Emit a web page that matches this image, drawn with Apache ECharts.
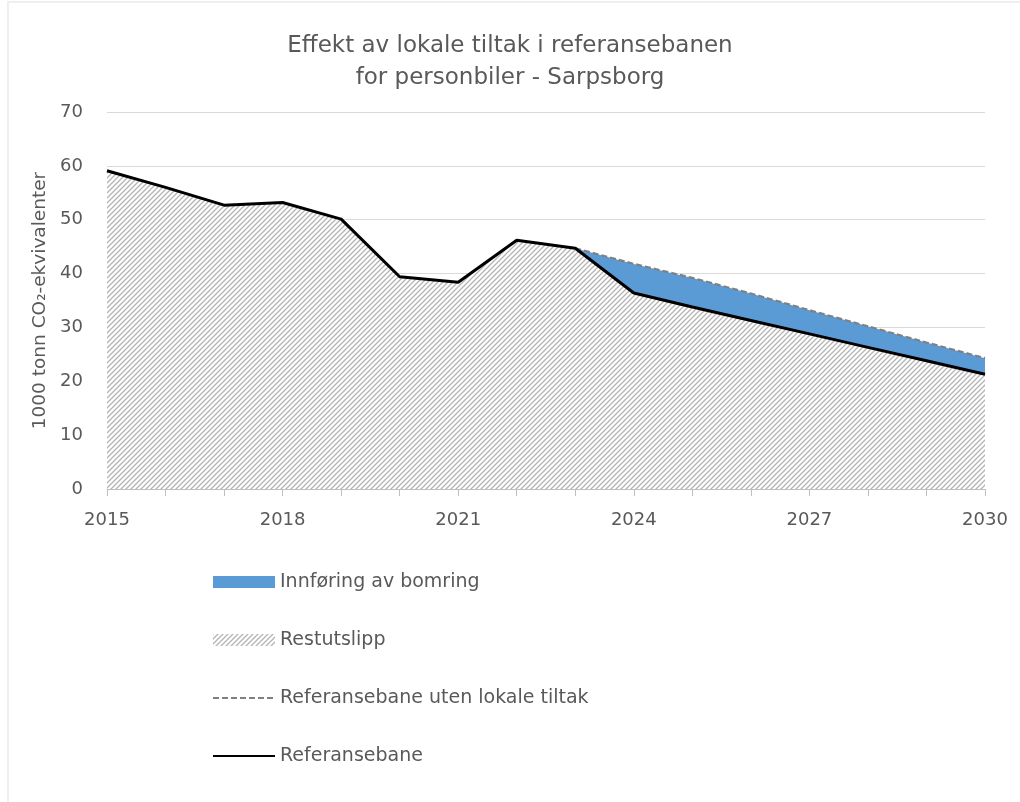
<!DOCTYPE html>
<html>
<head>
<meta charset="utf-8">
<title>Effekt av lokale tiltak - Sarpsborg</title>
<script src="https://cdn.jsdelivr.net/npm/echarts@6/dist/echarts.min.js"></script>
<style>
  html, body { margin: 0; padding: 0; background: #fff; }
  #chart { width: 1020px; height: 802px; }
</style>
</head>
<body>
<div id="chart"></div>
<script>
// år på x-aksen
const years = ['2015', '2016', '2017', '2018', '2019', '2020', '2021', '2022',
  '2023', '2024', '2025', '2026', '2027', '2028', '2029', '2030'];
// referansebane (1000 tonn CO2-ekv.)
const referansebane = [59.1, 56.0, 52.7, 53.2, 50.1, 39.4, 38.4, 46.2,
  44.7, 36.4, 33.8, 31.3, 28.8, 26.3, 23.8, 21.3];
// referansebane uten lokale tiltak (fra 2023)
const utenTiltak = [null, null, null, null, null, null, null, null,
  44.7, 41.8, 39.2, 36.3, 33.2, 30.2, 27.2, 24.3];
const yTicks = [0, 10, 20, 30, 40, 50, 60, 70];

// effekt av bomring = forskjellen mellom banene
const bomring = years.map((y, i) =>
  utenTiltak[i] == null ? 0 : +(utenTiltak[i] - referansebane[i]).toFixed(2));

// skravur-mønster for restutslipp
function makeHatch(bg) {
  const s = 5;
  const c = document.createElement('canvas');
  c.width = s; c.height = s;
  const ctx = c.getContext('2d');
  if (bg) {
    ctx.fillStyle = bg;
    ctx.fillRect(0, 0, s, s);
  }
  ctx.strokeStyle = '#b4b4b4';
  ctx.lineWidth = 1.3;
  ctx.beginPath();
  ctx.moveTo(0, s); ctx.lineTo(s, 0);
  ctx.moveTo(-1, 1); ctx.lineTo(1, -1);
  ctx.moveTo(s - 1, s + 1); ctx.lineTo(s + 1, s - 1);
  ctx.stroke();
  return c;
}
const hatch = { image: makeHatch('#ffffff'), repeat: 'repeat' };
const hatchLegend = { image: makeHatch(null), repeat: 'repeat' };

const txt = '#595959';
const font = 'DejaVu Sans';
const noSymbol = { color: 'rgba(0,0,0,0)', borderWidth: 0, opacity: 0 };

const myChart = echarts.init(document.getElementById('chart'));
const option = {
  backgroundColor: '#fff',
  animation: false,
  graphic: [{
    type: 'rect', shape: { x: 8, y: 2, width: 1100, height: 900 },
    style: { fill: 'none', stroke: '#efefef', lineWidth: 2 }, silent: true
  }],
  title: {
    text: 'Effekt av lokale tiltak i referansebanen\nfor personbiler - Sarpsborg',
    left: 'center',
    top: 25,
    textStyle: { color: txt, fontFamily: font, fontSize: 23, fontWeight: 'normal', lineHeight: 32 }
  },
  legend: {
    orient: 'vertical',
    left: 207,
    top: 567,
    itemWidth: 62,
    itemHeight: 12,
    itemGap: 38,
    textStyle: { color: txt, fontFamily: font, fontSize: 19, lineHeight: 20 },
    data: [
      { name: 'Innføring av bomring', icon: 'rect', itemStyle: { color: '#5b9bd5', borderWidth: 0 } },
      { name: 'Restutslipp', icon: 'rect', itemStyle: { color: hatchLegend, borderWidth: 0 } },
      { name: 'Referansebane uten lokale tiltak', itemStyle: noSymbol },
      { name: 'Referansebane', itemStyle: noSymbol }
    ]
  },
  grid: { left: 107, right: 35, top: 112, bottom: 313 },
  xAxis: {
    type: 'category',
    data: years,
    boundaryGap: false,
    axisLine: { lineStyle: { color: '#bfbfbf', width: 1 } },
    axisTick: { show: true, interval: 0, length: 7, lineStyle: { color: '#bfbfbf' } },
    axisLabel: { interval: 2, color: txt, fontFamily: font, fontSize: 18, margin: 22 },
    splitLine: { show: false }
  },
  yAxis: {
    type: 'value',
    min: yTicks[0],
    max: yTicks[yTicks.length - 1],
    interval: 10,
    name: '1000 tonn CO₂-ekvivalenter',
    nameLocation: 'middle',
    nameGap: 57,
    nameTextStyle: { color: txt, fontFamily: font, fontSize: 18.5 },
    axisLine: { show: false },
    axisTick: { show: false },
    axisLabel: { color: txt, fontFamily: font, fontSize: 18, margin: 24 },
    splitLine: { lineStyle: { color: '#d9d9d9', width: 1 } }
  },
  series: [
    {
      name: 'Restutslipp',
      type: 'line',
      stack: 'utslipp',
      data: referansebane,
      symbol: 'none',
      lineStyle: { width: 0 },
      itemStyle: { color: '#a6a6a6' },
      areaStyle: { color: hatch, opacity: 1 },
      z: 1
    },
    {
      name: 'Innføring av bomring',
      type: 'line',
      stack: 'utslipp',
      data: bomring,
      symbol: 'none',
      lineStyle: { width: 0 },
      itemStyle: { color: '#5b9bd5' },
      areaStyle: { color: '#5b9bd5', opacity: 1 },
      z: 1
    },
    {
      name: 'Referansebane uten lokale tiltak',
      type: 'line',
      data: utenTiltak,
      symbol: 'none',
      itemStyle: { color: '#808080' },
      lineStyle: { color: '#808080', width: 2.2, type: [6, 3] },
      z: 3
    },
    {
      name: 'Referansebane',
      type: 'line',
      data: referansebane,
      symbol: 'none',
      itemStyle: { color: '#000' },
      lineStyle: { color: '#000', width: 3 },
      z: 4
    }
  ]
};
myChart.setOption(option);
</script>
</body>
</html>
